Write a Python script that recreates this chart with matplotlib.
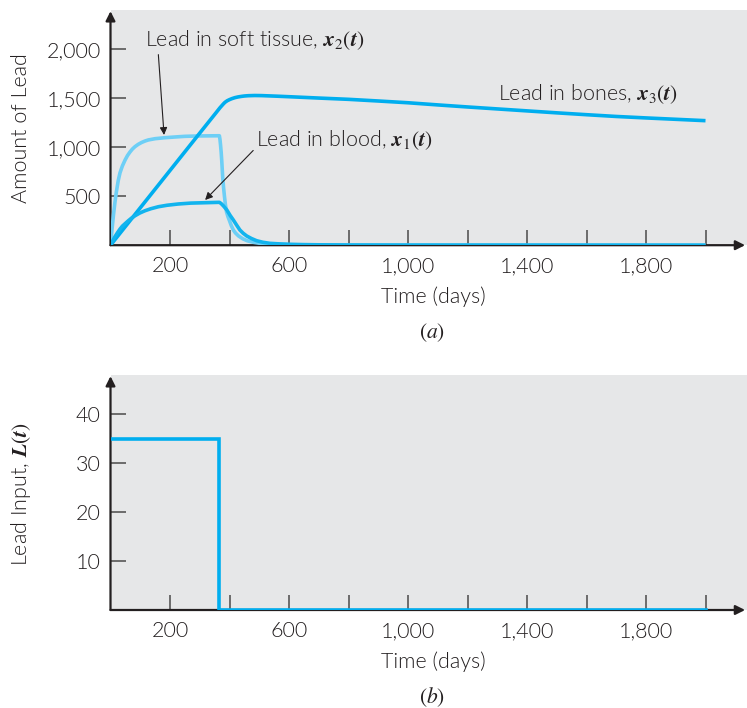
import matplotlib
matplotlib.use("Agg")
import matplotlib.pyplot as plt
from matplotlib.ticker import FixedLocator, FixedFormatter

# ---------------- data ----------------
t_blood = [0, 8, 15, 24, 32, 40, 49, 60, 70, 82, 98, 116, 135, 161, 190, 228, 270, 318, 366,
           372, 380, 391, 402, 413, 424, 435, 446, 458, 474, 491, 512, 536, 570, 604, 650, 700, 800, 1000, 2000]
blood   = [0, 48, 87, 130, 165, 195, 220, 250, 275, 300, 328, 352, 372, 393, 408, 421, 430, 434, 438,
           425, 400, 360, 305, 257, 205, 155, 122, 94, 68, 46, 30, 19, 13, 9, 6, 4, 2, 1, 0]

t_soft = [0, 5, 10, 15, 20, 26, 32, 40, 49, 57, 65, 73, 82, 93, 105, 116, 127, 150, 183, 220, 250, 300, 366,
          368, 370, 372, 374, 377, 380, 383, 386, 390, 395, 400, 406, 413, 420, 430, 445, 460, 480, 500, 520,
          560, 600, 700, 2000]
soft   = [0, 160, 310, 440, 550, 660, 740, 810, 870, 915, 950, 980, 1006, 1030, 1050, 1064, 1075, 1088, 1098,
          1106, 1112, 1116, 1118,
          1080, 1020, 950, 860, 700, 590, 500, 420, 340, 290, 250, 200, 155, 125, 95, 65, 45, 30, 20, 15,
          9, 5, 1, 0]

t_bone = [0, 295, 345, 355, 362, 368, 375, 380, 385, 392, 400, 408, 418, 428, 440, 450, 463, 485, 508, 560,
          620, 700, 800, 900, 1000, 1100, 1200, 1300, 1400, 1500, 1600, 1700, 1800, 1900, 2000]
bone   = [0, 1126, 1316, 1354, 1381, 1404, 1428, 1445, 1460, 1475, 1487, 1497, 1507, 1514, 1520, 1524, 1527,
          1529, 1528, 1522, 1514, 1503, 1490, 1473, 1455, 1433, 1412, 1392, 1372, 1352, 1333, 1315, 1300,
          1286, 1272]

t_input = [0, 365, 365, 2000]
lead_input = [35, 35, 0, 0]

x_ticks = [200, 400, 600, 800, 1000, 1200, 1400, 1600, 1800, 2000]
x_tick_labels = ["200", "", "600", "", "1,000", "", "1,400", "", "1,800", ""]
y_ticks_a = [500, 1000, 1500, 2000]
y_tick_labels_a = ["500", "1,000", "1,500", "2,000"]
y_ticks_b = [10, 20, 30, 40]
y_tick_labels_b = ["10", "20", "30", "40"]

# ---------------- style ----------------
plt.rcParams['font.family'] = ['Lato', 'Liberation Sans', 'DejaVu Sans']
plt.rcParams['font.weight'] = 300
plt.rcParams['mathtext.fontset'] = 'stix'
TXT = '#231f20'
BG = '#e6e7e8'
C_BONE = '#00aeef'
C_BLOOD = '#12b4ee'
C_SOFT = '#6dcff6'
FS = 15.5

W, H = 747, 708
fig = plt.figure(figsize=(W / 100, H / 100), dpi=100)

def px_axes(left, right, top, bottom):
    return fig.add_axes([left / W, 1 - bottom / H, (right - left) / W, (bottom - top) / H])

XMAX = (747 - 110.5) / 0.2975

def style_axes(ax, yticks, ylabels, ymax):
    ax.set_facecolor(BG)
    ax.set_xlim(0, XMAX)
    ax.set_ylim(0, ymax)
    for s in ax.spines.values():
        s.set_visible(False)
    ax.xaxis.set_major_locator(FixedLocator(x_ticks))
    ax.xaxis.set_major_formatter(FixedFormatter(x_tick_labels))
    ax.yaxis.set_major_locator(FixedLocator(yticks))
    ax.yaxis.set_major_formatter(FixedFormatter(ylabels))
    ax.tick_params(axis='both', direction='in', length=11, width=1.1, color='#4a4a4a',
                   labelsize=FS, labelcolor=TXT)
    ax.tick_params(axis='x', pad=8)
    ax.tick_params(axis='y', pad=7)
    ax.annotate('', xy=(0, 0.995), xytext=(0, 0), xycoords='axes fraction',
                arrowprops=dict(arrowstyle='-|>', lw=1.6, color=TXT, mutation_scale=14,
                                shrinkA=0, shrinkB=0), annotation_clip=False)
    ax.annotate('', xy=(0.997, 0), xytext=(0, 0), xycoords='axes fraction',
                arrowprops=dict(arrowstyle='-|>', lw=1.6, color=TXT, mutation_scale=14,
                                shrinkA=0, shrinkB=0), annotation_clip=False)

# ---------------- panel (a) ----------------
ax1 = px_axes(110.5, 747, 10, 245.2)
style_axes(ax1, y_ticks_a, y_tick_labels_a, (245.2 - 10) / 0.0979)
ax1.plot(t_soft, soft, color=C_SOFT, lw=2.6, solid_capstyle='butt', solid_joinstyle='round', zorder=3)
ax1.plot(t_bone, bone, color=C_BONE, lw=2.6, solid_capstyle='butt', solid_joinstyle='round', zorder=4)
ax1.plot(t_blood, blood, color=C_BLOOD, lw=2.6, solid_capstyle='butt', solid_joinstyle='round', zorder=4)

arrow_kw = dict(arrowstyle='-|>', lw=0.8, color=TXT, mutation_scale=11, shrinkA=0, shrinkB=0)
ax1.annotate(r'Lead in soft tissue, $\mathbfit{x}_2(\mathbfit{t})$', xy=(180, 1126), xytext=(116, 2096),
             fontsize=FS, color=TXT, ha='left', va='center',
             arrowprops=dict(arrow_kw, relpos=(0.06, 0.0)))
ax1.annotate(r'Lead in blood, $\mathbfit{x}_1(\mathbfit{t})$', xy=(318, 462), xytext=(489, 1075),
             fontsize=FS, color=TXT, ha='left', va='center',
             arrowprops=dict(arrow_kw, relpos=(-0.01, 0.1)))
ax1.text(1303, 1545, r'Lead in bones, $\mathbfit{x}_3(\mathbfit{t})$', fontsize=FS, color=TXT,
         ha='left', va='center')

# ---------------- panel (b) ----------------
ax2 = px_axes(110.5, 747, 375, 610)
style_axes(ax2, y_ticks_b, y_tick_labels_b, (610 - 375) / 4.89)
ax2.plot(t_input, lead_input, color=C_BONE, lw=2.6, solid_joinstyle='miter', zorder=3)

# ---------------- labels ----------------
def ftext(x, y, s, **kw):
    fig.text(x / W, 1 - y / H, s, ha='center', va='center', fontsize=FS, color=TXT, **kw)

ftext(433, 297, 'Time (days)')
ftext(432, 333, r'$(a)$')
ftext(433, 662, 'Time (days)')
ftext(432, 697, r'$(b)$')
ftext(21, 128, 'Amount of Lead', rotation=90)
ftext(21, 494, r'Lead Input, $\mathbfit{L}(\mathbfit{t})$', rotation=90)

fig.savefig('out.png', dpi=100)
